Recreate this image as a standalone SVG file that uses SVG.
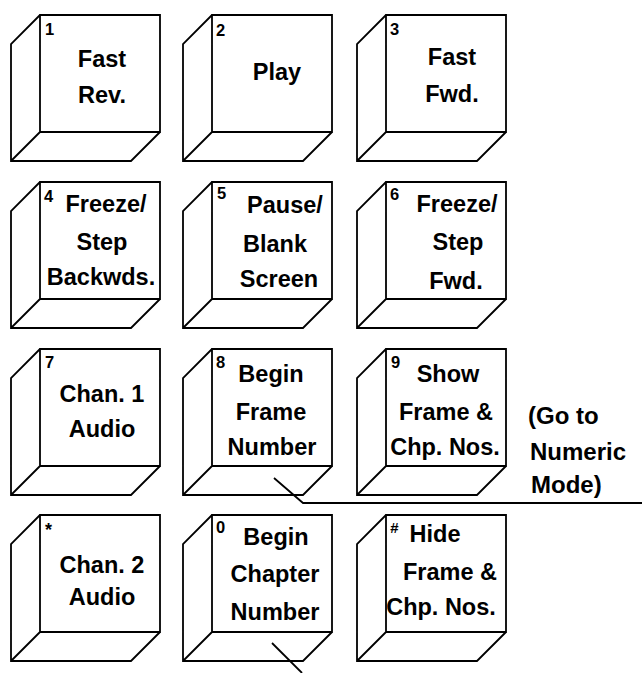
<svg xmlns="http://www.w3.org/2000/svg" xmlns:xlink="http://www.w3.org/1999/xlink" width="642" height="673" viewBox="0 0 642 673">
<style>
.k{fill:#fff;stroke:#000;stroke-width:1.8;stroke-linejoin:miter}
.t{font-family:"Liberation Sans",Arial,sans-serif;font-weight:bold;font-size:23.5px;fill:#000;text-anchor:middle}
.n{font-family:"Liberation Sans",Arial,sans-serif;font-weight:bold;font-size:16.5px;fill:#000}
.l{font-family:"Liberation Sans",Arial,sans-serif;font-weight:bold;font-size:24px;fill:#000}
.c{fill:none;stroke:#000;stroke-width:1.8}
</style>
<defs>
<path id="key" d="M0,0 H120 V117 H0 Z M0,0 L-29,29 V146 H91 L120,117 M0,117 L-29,146"/>
</defs>
<rect width="642" height="673" fill="#fff"/>
<g id="key1"><use xlink:href="#key" class="k" x="40" y="15"/><text class="n" x="45" y="35">1</text><text class="t" x="102" y="67">Fast</text><text class="t" x="102" y="103">Rev.</text></g>
<g id="key2"><use xlink:href="#key" class="k" x="212" y="15"/><text class="n" x="216" y="36">2</text><text class="t" x="277" y="80">Play</text></g>
<g id="key3"><use xlink:href="#key" class="k" x="386" y="15"/><text class="n" x="390" y="35">3</text><text class="t" x="452" y="65">Fast</text><text class="t" x="452" y="102">Fwd.</text></g>
<g id="key4"><use xlink:href="#key" class="k" x="40" y="182"/><text class="n" x="44" y="202">4</text><text class="t" x="106" y="212">Freeze/</text><text class="t" x="102" y="250">Step</text><text class="t" x="101" y="285">Backwds.</text></g>
<g id="key5"><use xlink:href="#key" class="k" x="212" y="182"/><text class="n" x="217" y="199">5</text><text class="t" x="285" y="213">Pause/</text><text class="t" x="275" y="252">Blank</text><text class="t" x="279" y="287">Screen</text></g>
<g id="key6"><use xlink:href="#key" class="k" x="386" y="182"/><text class="n" x="390" y="200">6</text><text class="t" x="457" y="212">Freeze/</text><text class="t" x="458" y="250">Step</text><text class="t" x="456" y="289">Fwd.</text></g>
<g id="key7"><use xlink:href="#key" class="k" x="40" y="349"/><text class="n" x="45" y="368">7</text><text class="t" x="102" y="402">Chan. 1</text><text class="t" x="102" y="437">Audio</text></g>
<g id="key8"><use xlink:href="#key" class="k" x="212" y="349"/><text class="n" x="216" y="368">8</text><text class="t" x="271" y="382">Begin</text><text class="t" x="271" y="420">Frame</text><text class="t" x="272" y="455">Number</text></g>
<g id="key9"><use xlink:href="#key" class="k" x="386" y="349"/><text class="n" x="391" y="368">9</text><text class="t" x="448" y="382">Show</text><text class="t" x="446" y="420">Frame &amp;</text><text class="t" x="445" y="455">Chp. Nos.</text></g>
<g id="keystar"><use xlink:href="#key" class="k" x="40" y="515"/><text class="n" x="45" y="536" style="font-size:18px">*</text><text class="t" x="102" y="573">Chan. 2</text><text class="t" x="102" y="605">Audio</text></g>
<g id="key0"><use xlink:href="#key" class="k" x="212" y="515"/><text class="n" x="216" y="533">0</text><text class="t" x="276" y="545">Begin</text><text class="t" x="275" y="582">Chapter</text><text class="t" x="275" y="620">Number</text></g>
<g id="keyhash"><use xlink:href="#key" class="k" x="386" y="515"/><text class="n" x="390" y="533" style="font-size:15px;font-style:italic">#</text><text class="t" x="435" y="542">Hide</text><text class="t" x="450" y="580">Frame &amp;</text><text class="t" x="441" y="615">Chp. Nos.</text></g>
<g id="note"><text class="l" x="528" y="424">(Go to</text><text class="l" x="530" y="460">Numeric</text><text class="l" x="531" y="493">Mode)</text></g>
<g id="connectors">
<polyline class="c" points="274,478 303,503 642,503"/>
<polyline class="c" points="272,643 302,673"/>
</g>
</svg>
